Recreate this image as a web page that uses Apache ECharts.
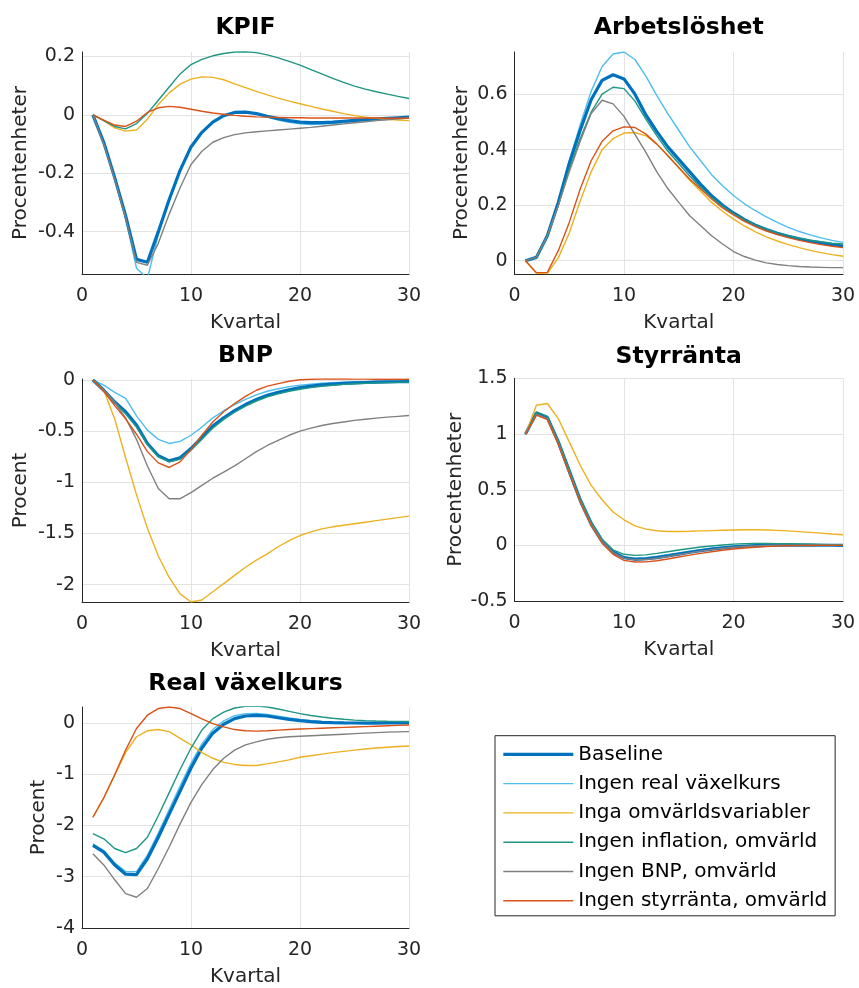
<!DOCTYPE html>
<html>
<head>
<meta charset="utf-8">
<script src="https://cdn.jsdelivr.net/npm/echarts@6/dist/echarts.min.js"></script>
<style>
  html, body { margin: 0; padding: 0; background: #fff; }
  #chart { width: 859px; height: 988px; }
</style>
</head>
<body>
<div id="chart"></div>
<script>
// Quarters after the shock
const quarters = [1, 2, 3, 4, 5, 6, 7, 8, 9, 10, 11, 12, 13, 14, 15, 16, 17, 18, 19, 20, 21, 22, 23, 24, 25, 26, 27, 28, 29, 30];

const seriesNames = ['Baseline', 'Ingen real växelkurs', 'Inga omvärldsvariabler', 'Ingen inflation, omvärld', 'Ingen BNP, omvärld', 'Ingen styrränta, omvärld'];

// KPIF (procentenheter)
const kpifBaseline = [0, -0.095, -0.215, -0.345, -0.495, -0.505, -0.4, -0.29, -0.19, -0.11, -0.06, -0.025, -0.003, 0.008, 0.009, 0.004, -0.005, -0.013, -0.02, -0.025, -0.027, -0.027, -0.025, -0.022, -0.019, -0.016, -0.014, -0.012, -0.01, -0.008];
const kpifRealFx = [0, -0.095, -0.22, -0.355, -0.525, -0.56, -0.41, -0.29, -0.19, -0.11, -0.058, -0.022, 0, 0.01, 0.01, 0.003, -0.008, -0.018, -0.026, -0.031, -0.033, -0.032, -0.03, -0.027, -0.023, -0.02, -0.017, -0.015, -0.013, -0.011];
const kpifNoForeign = [0, -0.02, -0.045, -0.056, -0.052, -0.015, 0.035, 0.075, 0.105, 0.122, 0.13, 0.128, 0.12, 0.106, 0.093, 0.08, 0.068, 0.057, 0.047, 0.038, 0.029, 0.02, 0.012, 0.004, -0.003, -0.008, -0.012, -0.015, -0.018, -0.02];
const kpifNoInfl = [0, -0.02, -0.04, -0.048, -0.03, 0.005, 0.05, 0.095, 0.14, 0.172, 0.19, 0.202, 0.21, 0.215, 0.216, 0.213, 0.205, 0.195, 0.183, 0.17, 0.155, 0.14, 0.125, 0.111, 0.098, 0.088, 0.079, 0.071, 0.063, 0.056];
const kpifNoGdp = [0, -0.1, -0.22, -0.35, -0.505, -0.515, -0.44, -0.34, -0.25, -0.17, -0.125, -0.094, -0.078, -0.068, -0.062, -0.058, -0.055, -0.052, -0.049, -0.046, -0.043, -0.039, -0.035, -0.031, -0.027, -0.024, -0.02, -0.017, -0.014, -0.011];
const kpifNoRate = [0, -0.018, -0.035, -0.04, -0.022, 0.008, 0.024, 0.029, 0.026, 0.019, 0.012, 0.006, 0.002, -0.002, -0.005, -0.007, -0.008, -0.009, -0.01, -0.01, -0.011, -0.011, -0.011, -0.011, -0.011, -0.011, -0.011, -0.012, -0.012, -0.012];

// Arbetslöshet (procentenheter)
const unempBaseline = [0, 0.012, 0.09, 0.21, 0.35, 0.47, 0.58, 0.65, 0.67, 0.655, 0.6, 0.525, 0.465, 0.41, 0.365, 0.32, 0.275, 0.234, 0.2, 0.172, 0.148, 0.128, 0.112, 0.099, 0.088, 0.079, 0.071, 0.064, 0.058, 0.053];
const unempRealFx = [0, 0.012, 0.09, 0.21, 0.36, 0.49, 0.61, 0.7, 0.745, 0.752, 0.725, 0.665, 0.595, 0.53, 0.47, 0.41, 0.36, 0.31, 0.27, 0.235, 0.205, 0.18, 0.158, 0.138, 0.12, 0.105, 0.093, 0.082, 0.073, 0.066];
const unempNoForeign = [0, -0.045, -0.046, 0.01, 0.1, 0.215, 0.32, 0.4, 0.44, 0.46, 0.462, 0.45, 0.42, 0.38, 0.335, 0.29, 0.25, 0.21, 0.178, 0.15, 0.125, 0.104, 0.086, 0.071, 0.058, 0.047, 0.037, 0.029, 0.022, 0.016];
const unempNoInfl = [0, 0.012, 0.088, 0.2, 0.33, 0.44, 0.535, 0.6, 0.625, 0.62, 0.575, 0.51, 0.45, 0.395, 0.35, 0.305, 0.265, 0.228, 0.196, 0.17, 0.148, 0.128, 0.113, 0.1, 0.09, 0.081, 0.074, 0.068, 0.063, 0.06];
const unempNoGdp = [0, 0.012, 0.09, 0.2, 0.32, 0.43, 0.53, 0.578, 0.565, 0.52, 0.455, 0.39, 0.32, 0.26, 0.21, 0.162, 0.126, 0.09, 0.06, 0.033, 0.015, 0.002, -0.008, -0.014, -0.018, -0.021, -0.023, -0.024, -0.025, -0.025];
const unempNoRate = [0, -0.043, -0.042, 0.036, 0.138, 0.258, 0.36, 0.43, 0.468, 0.482, 0.48, 0.456, 0.42, 0.378, 0.336, 0.294, 0.258, 0.222, 0.19, 0.165, 0.142, 0.123, 0.107, 0.094, 0.083, 0.073, 0.065, 0.058, 0.052, 0.047];

// BNP (procent)
const gdpBaseline = [0, -0.1, -0.215, -0.31, -0.44, -0.62, -0.74, -0.79, -0.76, -0.67, -0.56, -0.45, -0.37, -0.3, -0.24, -0.19, -0.15, -0.12, -0.095, -0.075, -0.06, -0.048, -0.04, -0.033, -0.028, -0.024, -0.021, -0.019, -0.017, -0.016];
const gdpRealFx = [0, -0.05, -0.12, -0.18, -0.35, -0.49, -0.58, -0.62, -0.6, -0.54, -0.46, -0.37, -0.3, -0.24, -0.19, -0.145, -0.11, -0.085, -0.065, -0.05, -0.04, -0.032, -0.026, -0.022, -0.019, -0.017, -0.015, -0.014, -0.013, -0.012];
const gdpNoForeign = [0, -0.1, -0.38, -0.76, -1.12, -1.45, -1.72, -1.93, -2.09, -2.17, -2.15, -2.07, -1.99, -1.91, -1.83, -1.76, -1.7, -1.63, -1.57, -1.52, -1.485, -1.455, -1.435, -1.42, -1.405, -1.39, -1.375, -1.36, -1.345, -1.33];
const gdpNoInfl = [0, -0.1, -0.22, -0.33, -0.46, -0.63, -0.75, -0.8, -0.775, -0.685, -0.58, -0.47, -0.385, -0.315, -0.255, -0.205, -0.165, -0.135, -0.11, -0.09, -0.074, -0.061, -0.051, -0.043, -0.037, -0.032, -0.028, -0.025, -0.023, -0.021];
const gdpNoGdp = [0, -0.1, -0.22, -0.37, -0.58, -0.84, -1.06, -1.16, -1.16, -1.1, -1.03, -0.96, -0.9, -0.84, -0.77, -0.7, -0.64, -0.59, -0.54, -0.5, -0.47, -0.445, -0.425, -0.41, -0.395, -0.383, -0.372, -0.363, -0.355, -0.347];
const gdpNoRate = [0, -0.11, -0.25, -0.38, -0.53, -0.7, -0.81, -0.855, -0.8, -0.68, -0.54, -0.41, -0.31, -0.23, -0.16, -0.1, -0.06, -0.035, -0.012, 0.002, 0.008, 0.01, 0.01, 0.01, 0.009, 0.009, 0.008, 0.008, 0.007, 0.007];

// Styrränta (procentenheter)
const rateBaseline = [1.0, 1.19, 1.15, 0.93, 0.67, 0.41, 0.2, 0.04, -0.06, -0.11, -0.125, -0.12, -0.11, -0.095, -0.078, -0.062, -0.047, -0.034, -0.023, -0.014, -0.008, -0.003, 0, 0.001, 0.002, 0.002, 0.002, 0.001, 0.001, 0];
const rateRealFx = [1.0, 1.19, 1.14, 0.91, 0.64, 0.38, 0.17, 0.02, -0.07, -0.11, -0.115, -0.11, -0.098, -0.083, -0.067, -0.052, -0.038, -0.026, -0.016, -0.008, -0.003, 0.001, 0.003, 0.004, 0.004, 0.004, 0.003, 0.002, 0.002, 0.001];
const rateNoForeign = [1.0, 1.26, 1.275, 1.14, 0.93, 0.72, 0.54, 0.41, 0.3, 0.23, 0.176, 0.146, 0.131, 0.125, 0.125, 0.127, 0.13, 0.133, 0.136, 0.138, 0.14, 0.14, 0.138, 0.135, 0.13, 0.124, 0.117, 0.11, 0.102, 0.095];
const rateNoInfl = [1.0, 1.2, 1.16, 0.94, 0.68, 0.42, 0.21, 0.055, -0.04, -0.08, -0.09, -0.085, -0.072, -0.057, -0.042, -0.028, -0.015, -0.005, 0.004, 0.011, 0.015, 0.017, 0.017, 0.016, 0.014, 0.012, 0.01, 0.008, 0.006, 0.005];
const rateNoGdp = [1.0, 1.18, 1.14, 0.92, 0.66, 0.4, 0.19, 0.035, -0.065, -0.115, -0.13, -0.127, -0.116, -0.1, -0.083, -0.067, -0.052, -0.038, -0.026, -0.017, -0.01, -0.005, -0.001, 0.001, 0.002, 0.002, 0.002, 0.001, 0.001, 0];
const rateNoRate = [1.0, 1.17, 1.13, 0.91, 0.65, 0.39, 0.18, 0.02, -0.08, -0.135, -0.15, -0.148, -0.138, -0.123, -0.105, -0.088, -0.072, -0.057, -0.044, -0.033, -0.024, -0.017, -0.011, -0.007, -0.004, -0.002, -0.001, 0, 0, 0];

// Real växelkurs (procent)
const fxBaseline = [-2.39, -2.52, -2.77, -2.95, -2.96, -2.65, -2.23, -1.78, -1.33, -0.88, -0.49, -0.2, -0.026, 0.083, 0.135, 0.148, 0.135, 0.1, 0.07, 0.045, 0.025, 0.012, 0.004, 0, -0.002, -0.003, -0.003, -0.002, -0.001, 0];
const fxRealFx = [-2.36, -2.49, -2.73, -2.9, -2.9, -2.58, -2.15, -1.69, -1.23, -0.79, -0.41, -0.13, 0.04, 0.14, 0.18, 0.185, 0.165, 0.13, 0.095, 0.065, 0.042, 0.026, 0.015, 0.008, 0.004, 0.002, 0.001, 0, 0, 0];
const fxNoForeign = [-1.84, -1.46, -1.02, -0.58, -0.27, -0.154, -0.13, -0.17, -0.3, -0.43, -0.58, -0.69, -0.77, -0.81, -0.83, -0.83, -0.8, -0.76, -0.72, -0.67, -0.64, -0.61, -0.58, -0.555, -0.53, -0.51, -0.49, -0.475, -0.46, -0.45];
const fxNoInfl = [-2.16, -2.26, -2.45, -2.53, -2.45, -2.23, -1.81, -1.36, -0.91, -0.49, -0.14, 0.083, 0.21, 0.29, 0.325, 0.33, 0.31, 0.27, 0.225, 0.18, 0.145, 0.115, 0.09, 0.07, 0.055, 0.045, 0.038, 0.033, 0.03, 0.028];
const fxNoGdp = [-2.55, -2.77, -3.06, -3.33, -3.4, -3.23, -2.84, -2.42, -1.97, -1.55, -1.2, -0.91, -0.69, -0.53, -0.43, -0.37, -0.32, -0.29, -0.27, -0.26, -0.25, -0.24, -0.23, -0.22, -0.21, -0.2, -0.19, -0.18, -0.175, -0.17];
const fxNoRate = [-1.84, -1.46, -1.01, -0.53, -0.11, 0.15, 0.28, 0.31, 0.28, 0.18, 0.08, -0.013, -0.077, -0.13, -0.154, -0.16, -0.154, -0.14, -0.13, -0.12, -0.112, -0.104, -0.096, -0.088, -0.08, -0.072, -0.064, -0.056, -0.048, -0.04];

// Axis tick steps per panel
const yTickSteps = [0.2, 0.2, 0.5, 0.5, 1];

const FONT = '"DejaVu Sans", "Liberation Sans", sans-serif';
const INK = '#262626';

const lineStyles = [
  { color: '#0072BD', width: 3.2, z: 3 },   // Baseline
  { color: '#4DBEEE', width: 1.4, z: 2 },   // Ingen real växelkurs
  { color: '#EDB120', width: 1.4, z: 4 },   // Inga omvärldsvariabler
  { color: '#1E9683', width: 1.4, z: 4 },   // Ingen inflation, omvärld
  { color: '#808080', width: 1.4, z: 4 },   // Ingen BNP, omvärld
  { color: '#D95319', width: 1.4, z: 4 }    // Ingen styrränta, omvärld
];

const panels = [
  { title: 'KPIF', yName: 'Procentenheter', values: [kpifBaseline, kpifRealFx, kpifNoForeign, kpifNoInfl, kpifNoGdp, kpifNoRate],
    grid: { left: 82, top: 52, width: 327, height: 222 }, yMin: -0.545, yMax: 0.215, titleY: 28, nameGap: 51 },
  { title: 'Arbetslöshet', yName: 'Procentenheter', values: [unempBaseline, unempRealFx, unempNoForeign, unempNoInfl, unempNoGdp, unempNoRate],
    grid: { left: 514.5, top: 52, width: 328.5, height: 222 }, yMin: -0.048, yMax: 0.752, titleY: 28, nameGap: 43 },
  { title: 'BNP', yName: 'Procent', values: [gdpBaseline, gdpRealFx, gdpNoForeign, gdpNoInfl, gdpNoGdp, gdpNoRate],
    grid: { left: 82, top: 379, width: 327, height: 223 }, yMin: -2.17, yMax: 0.01, titleY: 355.5, nameGap: 51 },
  { title: 'Styrränta', yName: 'Procentenheter', values: [rateBaseline, rateRealFx, rateNoForeign, rateNoInfl, rateNoGdp, rateNoRate],
    grid: { left: 514.5, top: 378.5, width: 328.5, height: 222.5 }, yMin: -0.5, yMax: 1.5, titleY: 356.5, nameGap: 49 },
  { title: 'Real växelkurs', yName: 'Procent', values: [fxBaseline, fxRealFx, fxNoForeign, fxNoInfl, fxNoGdp, fxNoRate],
    grid: { left: 82, top: 707, width: 327, height: 222 }, yMin: -4, yMax: 0.31, titleY: 684, nameGap: 33 }
];

function tickLabel(step) {
  return function (v) {
    const k = v / step;
    if (Math.abs(k - Math.round(k)) > 1e-6) return '';
    return String(parseFloat((Math.round(k) * step).toFixed(3)));
  };
}

const grids = [], xAxes = [], yAxes = [], series = [], graphics = [];

panels.forEach(function (p, i) {
  grids.push(Object.assign({ containLabel: false }, p.grid));

  xAxes.push({
    type: 'value', gridIndex: i, min: 0, max: 30, interval: 10,
    name: 'Kvartal', nameLocation: 'middle', nameGap: 39,
    nameTextStyle: { fontFamily: FONT, fontSize: 20, color: INK },
    axisLine: { show: true, onZero: false, lineStyle: { color: INK, width: 1 } },
    axisTick: { show: false },
    axisLabel: { fontFamily: FONT, fontSize: 19, color: INK, margin: 13 },
    splitLine: { show: true, lineStyle: { color: '#e3e3e3', width: 1 } }
  });

  const step = yTickSteps[i];
  const exactTicks = Math.abs(p.yMin / step - Math.round(p.yMin / step)) < 1e-9 &&
                     Math.abs(p.yMax / step - Math.round(p.yMax / step)) < 1e-9;
  const yAxis = {
    type: 'value', gridIndex: i, min: p.yMin, max: p.yMax,
    name: p.yName, nameLocation: 'middle', nameGap: p.nameGap,
    nameTextStyle: { fontFamily: FONT, fontSize: 20, color: INK },
    axisLine: { show: true, onZero: false, lineStyle: { color: INK, width: 1 } },
    axisTick: { show: false },
    axisLabel: { fontFamily: FONT, fontSize: 19, color: INK, margin: 7, formatter: tickLabel(step) },
    splitLine: { show: true, showMinLine: exactTicks, showMaxLine: exactTicks, lineStyle: { color: '#e3e3e3', width: 1 } }
  };
  if (exactTicks) {
    yAxis.interval = step;
  } else {
    yAxis.splitNumber = 4;
  }
  yAxes.push(yAxis);

  p.values.forEach(function (vals, s) {
    const st = lineStyles[s];
    series.push({
      name: seriesNames[s], type: 'line', xAxisIndex: i, yAxisIndex: i,
      data: quarters.map(function (q, k) { return [q, vals[k]]; }),
      showSymbol: false, symbol: 'none', smooth: false, z: st.z,
      clip: true, animation: false, silent: true,
      lineStyle: { color: st.color, width: st.width },
      itemStyle: { color: st.color }
    });
  });

  graphics.push({
    type: 'text',
    x: p.grid.left + p.grid.width / 2, y: p.titleY,
    style: {
      text: p.title, fontFamily: FONT, fontSize: 23.5, fontWeight: 'bold',
      fill: '#000', align: 'center', verticalAlign: 'middle'
    }
  });
});

const chart = echarts.init(document.getElementById('chart'), null, { renderer: 'canvas' });
chart.setOption({
  backgroundColor: '#ffffff',
  animation: false,
  grid: grids,
  xAxis: xAxes,
  yAxis: yAxes,
  series: series,
  graphic: graphics,
  legend: {
    data: seriesNames,
    orient: 'vertical',
    left: 495, top: 735.7,
    padding: [8.6, 8, 5, 6.7],
    itemWidth: 70, itemHeight: 14, itemGap: 9.3,
    borderColor: INK, borderWidth: 1, backgroundColor: '#ffffff',
    selectedMode: false,
    textStyle: { fontFamily: FONT, fontSize: 20, color: '#000', lineHeight: 20 },
    itemStyle: { opacity: 0 },
    lineStyle: { width: 'inherit' }
  }
});
</script>
</body>
</html>
